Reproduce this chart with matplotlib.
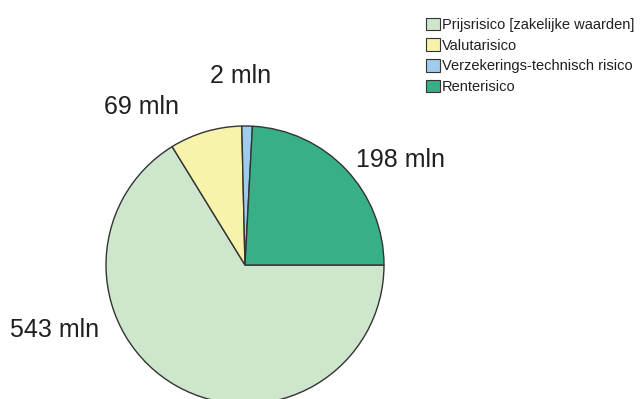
import matplotlib
matplotlib.use("Agg")
import matplotlib.pyplot as plt
from matplotlib.patches import Patch

plt.rcParams['font.family'] = ['Liberation Sans', 'DejaVu Sans']

categories = ["Prijsrisico [zakelijke waarden]", "Valutarisico",
              "Verzekerings-technisch risico", "Renterisico"]
label_values = [543, 69, 2, 198]          # values printed on the chart (mln)
slice_sizes = [543, 69, 10, 198]          # slice sizes as drawn in the picture
colors = ["#cde6cc", "#f7f3aa", "#9fcbec", "#38b087"]

fig = plt.figure(figsize=(6.41, 3.99), dpi=100)
ax = fig.add_axes([0, 0, 1, 1])

cx, cy, r = 245, 265, 139
W, H = 641, 399
ax.pie(slice_sizes, colors=colors, startangle=0, counterclock=False,
       radius=1, center=(0, 0),
       wedgeprops=dict(edgecolor="#333333", linewidth=1.0))
ax.set_aspect('auto')
ax.set_xlim(-cx / r, (W - cx) / r)
ax.set_ylim(-(H - cy) / r, cy / r)
ax.axis('off')

def px(x, y):
    return ((x - cx) / r, (cy - y) / r)

label_pos = [(55, 330), (141, 107), (241, 76), (401, 160)]
for v, (x, y) in zip(label_values, label_pos):
    ax.text(*px(x, y), f"{v} mln", fontsize=18, color="#231f20",
            ha="center", va="center")

handles = [Patch(facecolor=c, edgecolor="#333333", linewidth=0.8) for c in colors]
leg = fig.legend(handles, categories, loc="upper right",
                 bbox_to_anchor=(1.003, 0.978), frameon=False,
                 fontsize=10.5, handlelength=0.9, handleheight=0.9,
                 handletextpad=0.15, labelspacing=0.47, borderaxespad=0.2)
for t in leg.get_texts():
    t.set_color("#231f20")

fig.savefig("out.png", dpi=100)
